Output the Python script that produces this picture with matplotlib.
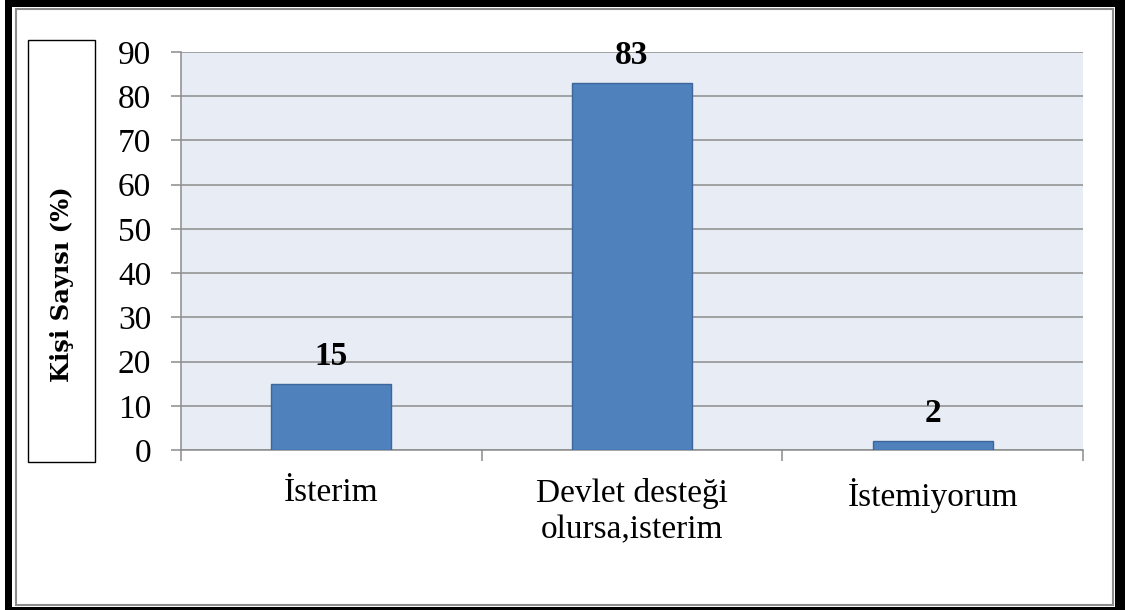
import matplotlib.pyplot as plt
from matplotlib.patches import Rectangle

# veriler
kategoriler = ['İsterim', 'Devlet desteği\nolursa,isterim', 'İstemiyorum']
degerler = [15, 83, 2]
y_etiket = 'Kişi Sayısı (%)'
y_ticks = [0, 10, 20, 30, 40, 50, 60, 70, 80, 90]

W, H = 1125, 610
plt.rcParams['font.family'] = ['Liberation Serif', 'DejaVu Serif']

fig = plt.figure(figsize=(W / 100, H / 100), dpi=100)

# dis cerceve (siyah golge + gri cizgi)
fig.patches.append(Rectangle((5 / W, 0), 1120 / W, 1, transform=fig.transFigure,
                             facecolor='black', edgecolor='none', zorder=-3))
fig.patches.append(Rectangle((12 / W, 3 / H), 1103 / W, 600 / H, transform=fig.transFigure,
                             facecolor='white', edgecolor='none', zorder=-2))
fig.patches.append(Rectangle((16 / W, 5 / H), 1097 / W, 596 / H, transform=fig.transFigure,
                             facecolor='none', edgecolor='#8c8c8c', lw=1.5, zorder=-1))

ax = fig.add_axes([181 / W, 160 / H, 902 / W, 398 / H])
ax.set_zorder(2)
ax.set_facecolor('#e8ecf4')

x = list(range(len(kategoriler)))
bars = ax.bar(x, degerler, width=0.4, color='#4f81bd', edgecolor='#3d679a', linewidth=1, zorder=3)

for xi, v in zip(x, degerler):
    ax.annotate(str(v), (xi, v), xytext=(0, 13.5), textcoords='offset points',
                ha='center', va='baseline', fontsize=24, fontweight='bold', zorder=4)

ax.set_xlim(-0.5, len(kategoriler) - 0.5)
ax.set_ylim(0, 90)
ax.set_yticks(y_ticks)
ax.yaxis.grid(True, color='#8c8c8c', linewidth=1.1, zorder=1)
ax.set_axisbelow(True)

# kategori sinirlarinda tick, ortada etiket
ax.set_xticks([i - 0.5 for i in range(len(kategoriler) + 1)])
ax.set_xticklabels([])
ax.set_xticks(x, minor=True)
ax.set_xticklabels(kategoriler, minor=True, fontsize=24, linespacing=1.25)
ax.tick_params(axis='x', which='major', direction='out', length=8, width=1.1, color='#8c8c8c')
ax.tick_params(axis='x', which='minor', length=0, pad=20)
ax.tick_params(axis='y', direction='out', length=7.5, width=1.1, color='#8c8c8c',
               labelsize=24, pad=14)

for s in ['top', 'right']:
    ax.spines[s].set_visible(False)
for s in ['left', 'bottom']:
    ax.spines[s].set_color('#8c8c8c')
    ax.spines[s].set_linewidth(1.1)

# y ekseni etiketi kutusu
fig.patches.append(Rectangle((28 / W, 148 / H), 67 / W, 422 / H, transform=fig.transFigure,
                             facecolor='white', edgecolor='black', lw=1, zorder=3))
fig.text(62 / W, (H - 284) / H, y_etiket, rotation=90, ha='center', va='center',
         fontsize=17.5, fontweight='bold', family=['DejaVu Serif'], zorder=4)

fig.savefig('out.png', dpi=100)
